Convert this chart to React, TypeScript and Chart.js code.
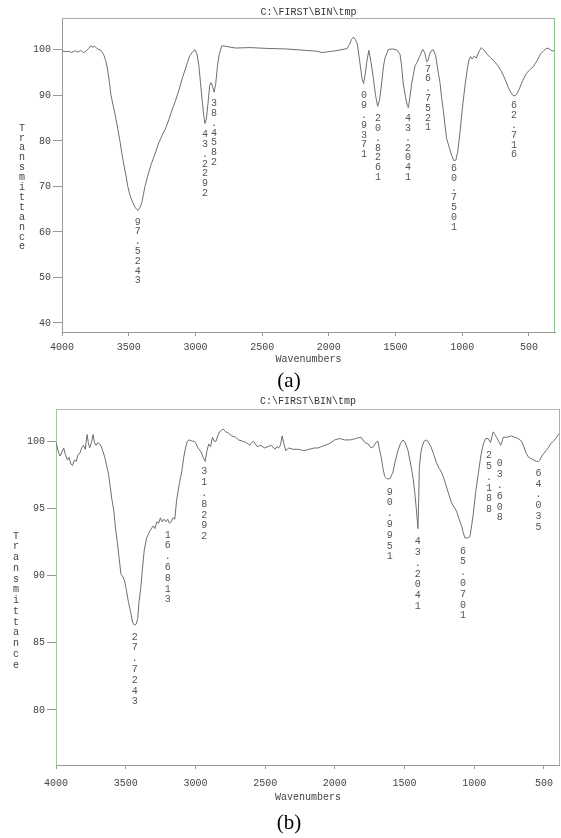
import React, { useEffect, useRef } from 'react';
import { Chart, registerables } from 'chart.js';

Chart.register(...registerables);

const MONO = '"Liberation Mono", "DejaVu Sans Mono", monospace';
const TITLE = 'C:\\FIRST\\BIN\\tmp';
const X_TITLE = 'Wavenumbers';
const Y_TITLE = 'Transmittance';
const X_TICKS = [4000, 3500, 3000, 2500, 2000, 1500, 1000, 500];
const Y_TICKS_A = [40, 50, 60, 70, 80, 90, 100];
const Y_TICKS_B = [80, 85, 90, 95, 100];

// ---------- spectrum (a) ----------
const WN_A = [4000, 3975, 3950, 3928, 3900, 3880, 3860, 3840, 3821, 3800, 3785, 3770, 3755, 3735, 3715, 3700, 3687, 3672, 3660, 3645, 3633, 3615, 3600, 3583, 3566, 3550, 3535, 3520, 3507, 3490, 3470, 3450, 3432, 3415, 3400, 3390, 3378, 3360, 3345, 3330, 3312, 3295, 3280, 3262, 3244, 3225, 3200, 3175, 3150, 3125, 3097, 3075, 3060, 3043, 3020, 3003, 2990, 2975, 2962, 2948, 2936, 2928, 2918, 2905, 2893, 2882, 2870, 2860, 2848, 2835, 2822, 2802, 2780, 2700, 2590, 2450, 2320, 2180, 2090, 2050, 1950, 1894, 1863, 1845, 1830, 1816, 1800, 1786, 1766, 1750, 1740, 1728, 1715, 1700, 1685, 1667, 1650, 1634, 1620, 1605, 1590, 1579, 1554, 1520, 1491, 1467, 1455, 1442, 1425, 1412, 1404, 1395, 1380, 1367, 1354, 1340, 1320, 1297, 1280, 1267, 1257, 1245, 1230, 1217, 1200, 1180, 1167, 1155, 1142, 1130, 1117, 1098, 1080, 1062, 1048, 1035, 1018, 1000, 978, 960, 950, 937, 925, 911, 895, 875, 857, 840, 816, 790, 763, 735, 709, 680, 656, 635, 620, 605, 590, 570, 548, 520, 495, 468, 440, 414, 387, 365, 347, 325, 308];
const T_A = [99.8, 99.6, 99.7, 99.4, 99.8, 99.5, 99.9, 99.4, 99.7, 100.3, 100.9, 100.6, 100.8, 100.2, 100.0, 99.6, 98.9, 97.6, 96.0, 93.0, 90.0, 87.6, 85.5, 82.8, 80.0, 77.0, 74.5, 72.3, 70.0, 68.0, 66.5, 65.3, 64.7, 65.4, 66.6, 68.2, 70.0, 72.0, 73.6, 75.0, 76.4, 77.8, 79.2, 80.4, 81.6, 82.6, 84.6, 86.8, 88.8, 91.0, 93.9, 95.8, 97.2, 98.7, 99.6, 100.0, 99.2, 96.8, 92.8, 88.5, 85.2, 83.8, 84.8, 88.5, 92.2, 92.8, 91.8, 90.7, 92.5, 96.5, 99.0, 100.9, 100.8, 100.4, 100.5, 100.3, 100.2, 99.9, 99.7, 99.4, 99.8, 100.1, 100.3, 101.2, 102.3, 102.8, 102.2, 101.2, 96.9, 93.5, 92.6, 94.5, 97.5, 99.9, 97.5, 93.9, 90.0, 87.6, 89.0, 92.5, 96.5, 98.2, 100.1, 100.2, 100.0, 99.1, 96.5, 92.5, 89.5, 87.8, 87.3, 89.0, 92.5, 94.5, 96.5, 97.2, 98.5, 100.1, 99.3, 97.4, 97.6, 99.0, 99.9, 100.0, 98.8, 95.0, 92.8, 89.5, 86.7, 83.5, 80.5, 78.6, 76.8, 75.6, 75.8, 77.5, 81.6, 87.0, 92.5, 96.2, 97.8, 98.5, 98.0, 98.6, 98.2, 99.6, 100.5, 100.0, 99.1, 98.3, 97.6, 96.6, 95.4, 93.6, 91.8, 90.6, 90.0, 89.9, 90.4, 91.6, 93.2, 94.8, 95.6, 96.3, 97.6, 99.1, 99.9, 100.4, 100.2, 99.7, 100.0];
const PEAK_WN_A = [3433, 2928, 2861, 1737, 1631, 1407, 1257, 1062, 612];
const PEAK_T_A = [63.3, 82.5, 89.3, 91.0, 86.0, 86.0, 96.9, 75.05, 88.8];
const PEAK_TEXT_A = ['97.5243', '43.2292', '38.4582', '09.9371', '20.8261', '43.2041', '76.7521', '60.7501', '62.716'];

// ---------- spectrum (b) ----------
const WN_B = [4000, 3990, 3983, 3970, 3958, 3945, 3932, 3918, 3906, 3893, 3881, 3868, 3855, 3842, 3829, 3816, 3803, 3790, 3777, 3768, 3759, 3746, 3734, 3724, 3713, 3700, 3688, 3675, 3662, 3650, 3637, 3624, 3611, 3598, 3585, 3572, 3559, 3546, 3534, 3520, 3508, 3495, 3480, 3465, 3450, 3436, 3425, 3414, 3405, 3392, 3380, 3367, 3350, 3328, 3303, 3290, 3277, 3264, 3251, 3238, 3225, 3212, 3199, 3186, 3174, 3161, 3148, 3135, 3116, 3097, 3084, 3071, 3058, 3046, 3020, 3007, 2994, 2981, 2960, 2940, 2930, 2917, 2904, 2891, 2878, 2865, 2852, 2840, 2827, 2814, 2801, 2782, 2763, 2740, 2712, 2690, 2660, 2635, 2609, 2596, 2583, 2570, 2557, 2530, 2506, 2480, 2454, 2440, 2429, 2415, 2403, 2390, 2378, 2365, 2352, 2330, 2300, 2260, 2223, 2185, 2146, 2120, 2095, 2070, 2043, 2000, 1966, 1930, 1889, 1850, 1812, 1785, 1761, 1740, 1722, 1706, 1691, 1680, 1667, 1655, 1643, 1625, 1606, 1583, 1565, 1547, 1530, 1511, 1495, 1475, 1462, 1451, 1438, 1426, 1414, 1404, 1398, 1394, 1385, 1377, 1360, 1343, 1328, 1311, 1290, 1271, 1253, 1235, 1217, 1199, 1181, 1163, 1145, 1127, 1109, 1091, 1079, 1067, 1049, 1031, 1019, 1007, 990, 971, 953, 935, 918, 900, 883, 874, 864, 852, 840, 825, 811, 800, 792, 760, 735, 710, 685, 660, 645, 627, 610, 591, 572, 555, 540, 530, 515, 500, 485, 470, 452, 434, 415, 398, 388];
const T_B = [99.9, 99.5, 99.2, 98.9, 99.2, 99.5, 99.0, 98.6, 98.8, 98.3, 98.2, 98.6, 98.5, 99.0, 99.1, 99.5, 99.7, 99.4, 100.5, 99.9, 99.5, 99.9, 100.5, 99.9, 99.7, 99.9, 99.8, 99.6, 99.2, 98.8, 98.2, 97.6, 96.6, 95.6, 94.8, 93.4, 92.4, 91.2, 90.1, 89.9, 89.6, 88.9, 88.0, 87.3, 86.5, 86.3, 86.4, 86.8, 88.0, 89.1, 90.5, 91.9, 92.8, 93.3, 93.7, 93.5, 94.0, 93.9, 94.3, 94.0, 94.2, 94.0, 94.2, 93.9, 94.0, 94.3, 94.2, 95.6, 96.8, 97.8, 98.8, 99.5, 100.0, 100.1, 100.0, 100.0, 99.8, 99.5, 99.2, 98.7, 98.5, 99.3, 99.8, 99.6, 100.3, 100.0, 100.0, 100.4, 100.7, 100.8, 100.9, 100.7, 100.6, 100.4, 100.3, 100.1, 100.0, 99.9, 99.7, 99.9, 100.0, 99.8, 99.6, 99.7, 99.5, 99.6, 99.7, 99.5, 99.4, 99.6, 99.5, 99.7, 100.4, 99.8, 99.3, 99.5, 99.4, 99.4, 99.3, 99.4, 99.5, 99.5, 99.6, 99.7, 99.8, 100.1, 100.2, 100.1, 100.1, 100.2, 100.3, 99.9, 99.8, 99.5, 99.6, 99.9, 100.0, 99.4, 98.8, 98.0, 97.4, 97.2, 97.2, 97.7, 98.6, 99.3, 99.8, 100.1, 99.9, 99.3, 98.6, 98.0, 97.2, 96.1, 94.8, 93.5, 95.8, 98.0, 99.0, 99.5, 100.0, 100.1, 99.9, 99.6, 99.0, 98.4, 98.0, 97.7, 97.2, 96.6, 96.0, 95.4, 95.1, 94.8, 94.2, 93.7, 93.2, 92.8, 92.8, 92.9, 93.7, 94.6, 96.2, 97.6, 98.9, 99.8, 100.2, 100.2, 99.9, 100.3, 100.7, 100.5, 100.3, 100.0, 99.7, 100.0, 100.3, 100.3, 100.4, 100.3, 100.2, 100.0, 99.6, 99.1, 98.8, 98.7, 98.6, 98.5, 98.5, 98.6, 98.9, 99.1, 99.3, 99.5, 99.8, 100.0, 100.2, 100.5, 100.6];
const PEAK_WN_B = [3436, 3199, 2937, 1606, 1406, 1080, 895, 818, 540];
const PEAK_T_B = [85.8, 93.4, 98.1, 96.6, 92.9, 92.2, 99.3, 98.7, 98.0];
const PEAK_TEXT_B = ['27.7243', '16.6813', '31.8292', '90.9951', '43.2041', '65.0701', '25.188', '03.608', '64.035'];

type SpectrumProps = {
  top: number;
  width: number;
  height: number;
  area: { left: number; right: number; top: number; bottom: number };
  xMin: number;
  yMin: number;
  yMax: number;
  yTicks: number[];
  wavenumbers: number[];
  transmittance: number[];
  peakWn: number[];
  peakT: number[];
  peakText: string[];
  charStep: number;
  titlePad: { top: number; bottom: number };
  xTickPad: number;
  xTitlePad: number;
  yLabelX: number;
  yLabelTop: number;
  yLabelStep: number;
  leftColor: string;
  topColor: string;
  rightColor: string;
};

function Spectrum(p: SpectrumProps) {
  const ref = useRef<HTMLCanvasElement>(null);
  useEffect(() => {
    const extras = {
      id: 'extras',
      afterDraw(chart: any) {
        const { ctx, chartArea: a, scales } = chart;
        const xs = scales.x;
        const ys = scales.y;
        ctx.save();
        ctx.lineWidth = 1;
        ctx.strokeStyle = p.topColor;
        ctx.beginPath();
        ctx.moveTo(a.left, a.top + 0.5);
        ctx.lineTo(a.right, a.top + 0.5);
        ctx.stroke();
        ctx.strokeStyle = p.rightColor;
        ctx.beginPath();
        ctx.moveTo(a.right - 0.5, a.top);
        ctx.lineTo(a.right - 0.5, a.bottom);
        ctx.stroke();
        // stacked y-axis title
        ctx.fillStyle = '#444';
        ctx.font = '10px ' + MONO;
        ctx.textAlign = 'center';
        ctx.textBaseline = 'middle';
        Y_TITLE.split('').forEach((ch, i) => {
          ctx.fillText(ch, p.yLabelX, a.top + p.yLabelTop + i * p.yLabelStep);
        });
        // peak labels (vertical stacks of characters)
        ctx.fillStyle = '#555';
        ctx.textBaseline = 'top';
        p.peakWn.forEach((wn, i) => {
          const px = xs.getPixelForValue(wn);
          const py = ys.getPixelForValue(p.peakT[i]);
          p.peakText[i].split('').forEach((ch, k) => {
            ctx.fillText(ch, px, py + k * p.charStep);
          });
        });
        ctx.restore();
      },
    };
    const chart = new Chart(ref.current as HTMLCanvasElement, {
      type: 'line',
      data: {
        datasets: [
          {
            data: p.wavenumbers.map((x, i) => ({ x, y: p.transmittance[i] })),
            borderColor: '#6e6e6e',
            borderWidth: 1,
            pointRadius: 0,
            tension: 0,
            fill: false,
          },
        ],
      },
      options: {
        animation: false,
        responsive: false,
        layout: { padding: { left: 0, right: p.width - p.area.right, top: 0, bottom: 0 } },
        plugins: {
          legend: { display: false },
          tooltip: { enabled: false },
          title: {
            display: true,
            fullSize: false,
            text: TITLE,
            color: '#333',
            font: { family: MONO, size: 10, weight: 'normal' },
            padding: p.titlePad,
          },
        },
        scales: {
          x: {
            type: 'linear',
            reverse: true,
            min: p.xMin,
            max: 4000,
            afterBuildTicks: (s: any) => {
              s.ticks = X_TICKS.map((v) => ({ value: v }));
            },
            afterFit: (s: any) => {
              s.height = p.height - p.area.bottom;
            },
            grid: { display: true, drawOnChartArea: false, drawTicks: true, tickLength: 4, color: '#999' },
            border: { display: true, color: '#999' },
            ticks: {
              autoSkip: false,
              maxRotation: 0,
              padding: p.xTickPad,
              color: '#444',
              font: { family: MONO, size: 10 },
              callback: (v: any) => String(v),
            },
            title: {
              display: true,
              text: X_TITLE,
              color: '#444',
              font: { family: MONO, size: 10 },
              padding: { top: 0, bottom: p.xTitlePad },
            },
          },
          y: {
            type: 'linear',
            min: p.yMin,
            max: p.yMax,
            afterBuildTicks: (s: any) => {
              s.ticks = p.yTicks.map((v) => ({ value: v }));
            },
            afterFit: (s: any) => {
              s.width = p.area.left;
            },
            grid: { display: true, drawOnChartArea: false, drawTicks: true, tickLength: 9, color: '#999' },
            border: { display: true, color: p.leftColor },
            ticks: {
              padding: 2,
              color: '#444',
              font: { family: MONO, size: 10 },
              callback: (v: any) => String(v),
            },
          },
        },
      },
      plugins: [extras],
    } as any);
    return () => chart.destroy();
  }, []);
  return (
    <canvas
      ref={ref}
      width={p.width}
      height={p.height}
      style={{ position: 'absolute', left: 0, top: p.top, width: p.width, height: p.height }}
    />
  );
}

const captionStyle: React.CSSProperties = {
  position: 'absolute',
  left: 289,
  transform: 'translateX(-50%)',
  fontFamily: '"Liberation Serif", "Times New Roman", serif',
  fontSize: 21,
  lineHeight: '24px',
  color: '#000',
  whiteSpace: 'nowrap',
};

export default function App() {
  useEffect(() => {
    document.body.style.margin = '0';
    document.body.style.background = '#fff';
  }, []);
  return (
    <div style={{ position: 'relative', width: 561, height: 838, overflow: 'hidden', background: '#fff' }}>
      <Spectrum
        top={0}
        width={561}
        height={395}
        area={{ left: 62, right: 555, top: 18, bottom: 332 }}
        xMin={305}
        yMin={38}
        yMax={107}
        yTicks={Y_TICKS_A}
        wavenumbers={WN_A}
        transmittance={T_A}
        peakWn={PEAK_WN_A}
        peakT={PEAK_T_A}
        peakText={PEAK_TEXT_A}
        charStep={9.8}
        titlePad={{ top: 6, bottom: 0 }}
        xTickPad={5}
        xTitlePad={30}
        yLabelX={22}
        yLabelTop={110}
        yLabelStep={9.9}
        leftColor="#999"
        topColor="#aaa"
        rightColor="#8cc48c"
      />
      <div style={{ ...captionStyle, top: 368 }}>(a)</div>
      <Spectrum
        top={395}
        width={561}
        height={443}
        area={{ left: 56, right: 560, top: 14, bottom: 370 }}
        xMin={385}
        yMin={75.9}
        yMax={102.4}
        yTicks={Y_TICKS_B}
        wavenumbers={WN_B}
        transmittance={T_B}
        peakWn={PEAK_WN_B}
        peakT={PEAK_T_B}
        peakText={PEAK_TEXT_B}
        charStep={10.8}
        titlePad={{ top: 0, bottom: 2 }}
        xTickPad={8}
        xTitlePad={35}
        yLabelX={16}
        yLabelTop={127}
        yLabelStep={10.75}
        leftColor="#9cc89c"
        topColor="#bbb"
        rightColor="#8cc48c"
      />
      <div style={{ ...captionStyle, top: 810 }}>(b)</div>
    </div>
  );
}
